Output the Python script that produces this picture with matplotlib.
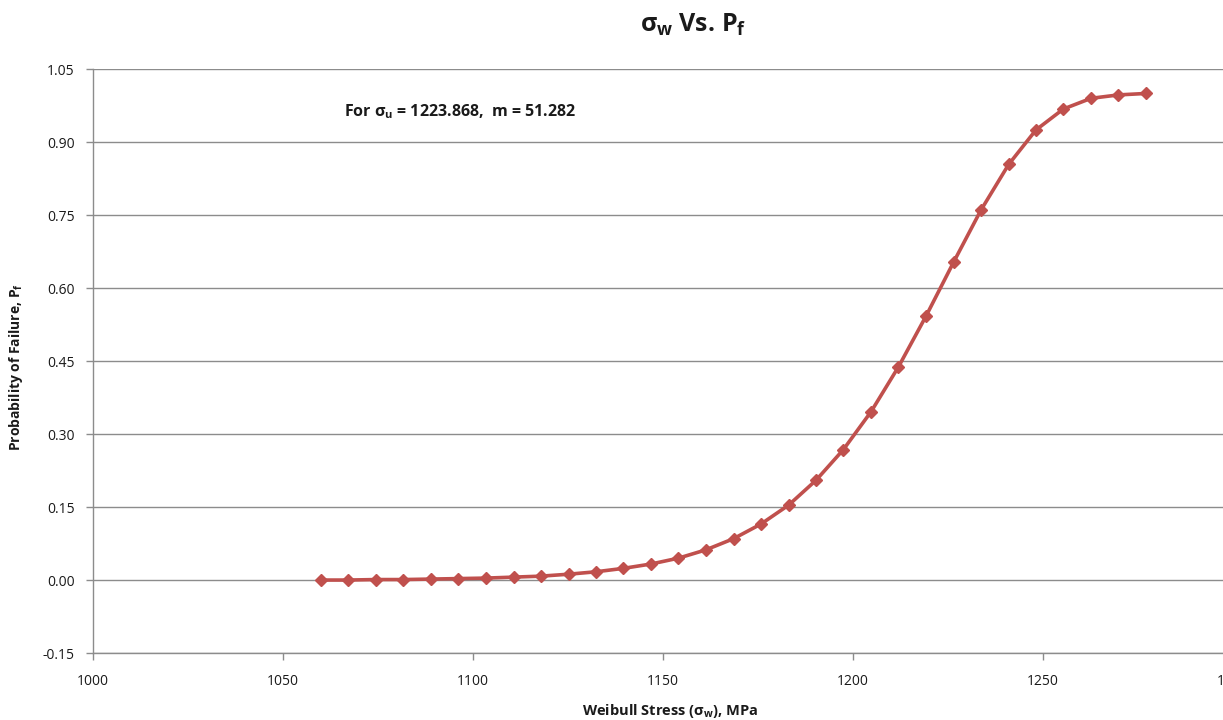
import matplotlib
matplotlib.use("Agg")
import matplotlib.pyplot as plt

plt.rcParams['font.family'] = ['Open Sans', 'DejaVu Sans']
plt.rcParams['mathtext.default'] = 'regular'

# Weibull stress (MPa) and probability of failure
stress = [1060.0, 1067.2, 1074.5, 1081.7, 1089.0, 1096.2, 1103.4, 1110.7,
          1117.9, 1125.2, 1132.4, 1139.6, 1146.9, 1154.1, 1161.3, 1168.6,
          1175.8, 1183.1, 1190.3, 1197.5, 1204.8, 1212.0, 1219.3, 1226.5,
          1233.7, 1241.0, 1248.2, 1255.4, 1262.7, 1269.9, 1277.2]
prob_failure = [0.000, 0.000, 0.001, 0.001, 0.002, 0.003, 0.004, 0.006,
                0.008, 0.012, 0.017, 0.024, 0.033, 0.045, 0.062, 0.085,
                0.115, 0.154, 0.205, 0.268, 0.346, 0.438, 0.543, 0.653,
                0.760, 0.854, 0.925, 0.968, 0.990, 0.997, 1.000]

x_ticks = [1000, 1050, 1100, 1150, 1200, 1250, 1300]
y_ticks = [-0.15, 0.00, 0.15, 0.30, 0.45, 0.60, 0.75, 0.90, 1.05]

title_text = 'σ$_{w}$ Vs. P$_{f}$'
note_text = 'For σ$_{u}$ = 1223.868,  m = 51.282'
x_label = 'Weibull Stress (σ$_{w}$), MPa'
y_label = 'Probability of Failure, P$_{f}$'

grid_grey = '#8c8c8c'
line_red = '#C0504D'

fig = plt.figure(figsize=(12.23, 7.2), dpi=100)
ax = fig.add_axes([0.076, 0.093, 0.932, 0.811])

ax.plot(stress, prob_failure, color=line_red, linewidth=2.6,
        marker='D', markersize=6.5, markerfacecolor=line_red,
        markeredgecolor=line_red, zorder=3, clip_on=False)

ax.set_xlim(x_ticks[0], x_ticks[-1])
ax.set_ylim(y_ticks[0], y_ticks[-1])
ax.set_xticks(x_ticks)
ax.set_yticks(y_ticks)
ax.set_xticklabels([str(v) for v in x_ticks])
ax.set_yticklabels([f'{v:.2f}' for v in y_ticks])

ax.grid(axis='y', color=grid_grey, linewidth=1.0)
ax.set_axisbelow(True)
for side in ('top', 'right'):
    ax.spines[side].set_visible(False)
for side in ('left', 'bottom'):
    ax.spines[side].set_color(grid_grey)
    ax.spines[side].set_linewidth(1.0)

ax.tick_params(axis='both', direction='out', colors=grid_grey,
               labelcolor='#1a1a1a', labelsize=10, length=5, width=1.0)
ax.tick_params(axis='x', pad=10)
ax.tick_params(axis='y', pad=8)

ax.text(1066, 0.962, note_text, fontsize=11.5, fontweight='bold',
        color='#1a1a1a', va='center', ha='left')

fig.text(0.567, 0.966, title_text, fontsize=18, fontweight='bold',
         color='#1a1a1a', ha='center', va='center')
fig.text(0.548, 0.013, x_label, fontsize=10.5, fontweight='bold',
         color='#1a1a1a', ha='center', va='center')
fig.text(0.013, 0.49, y_label, fontsize=10, fontweight='bold',
         color='#1a1a1a', ha='center', va='center', rotation=90)

fig.savefig('out.png', dpi=100)
